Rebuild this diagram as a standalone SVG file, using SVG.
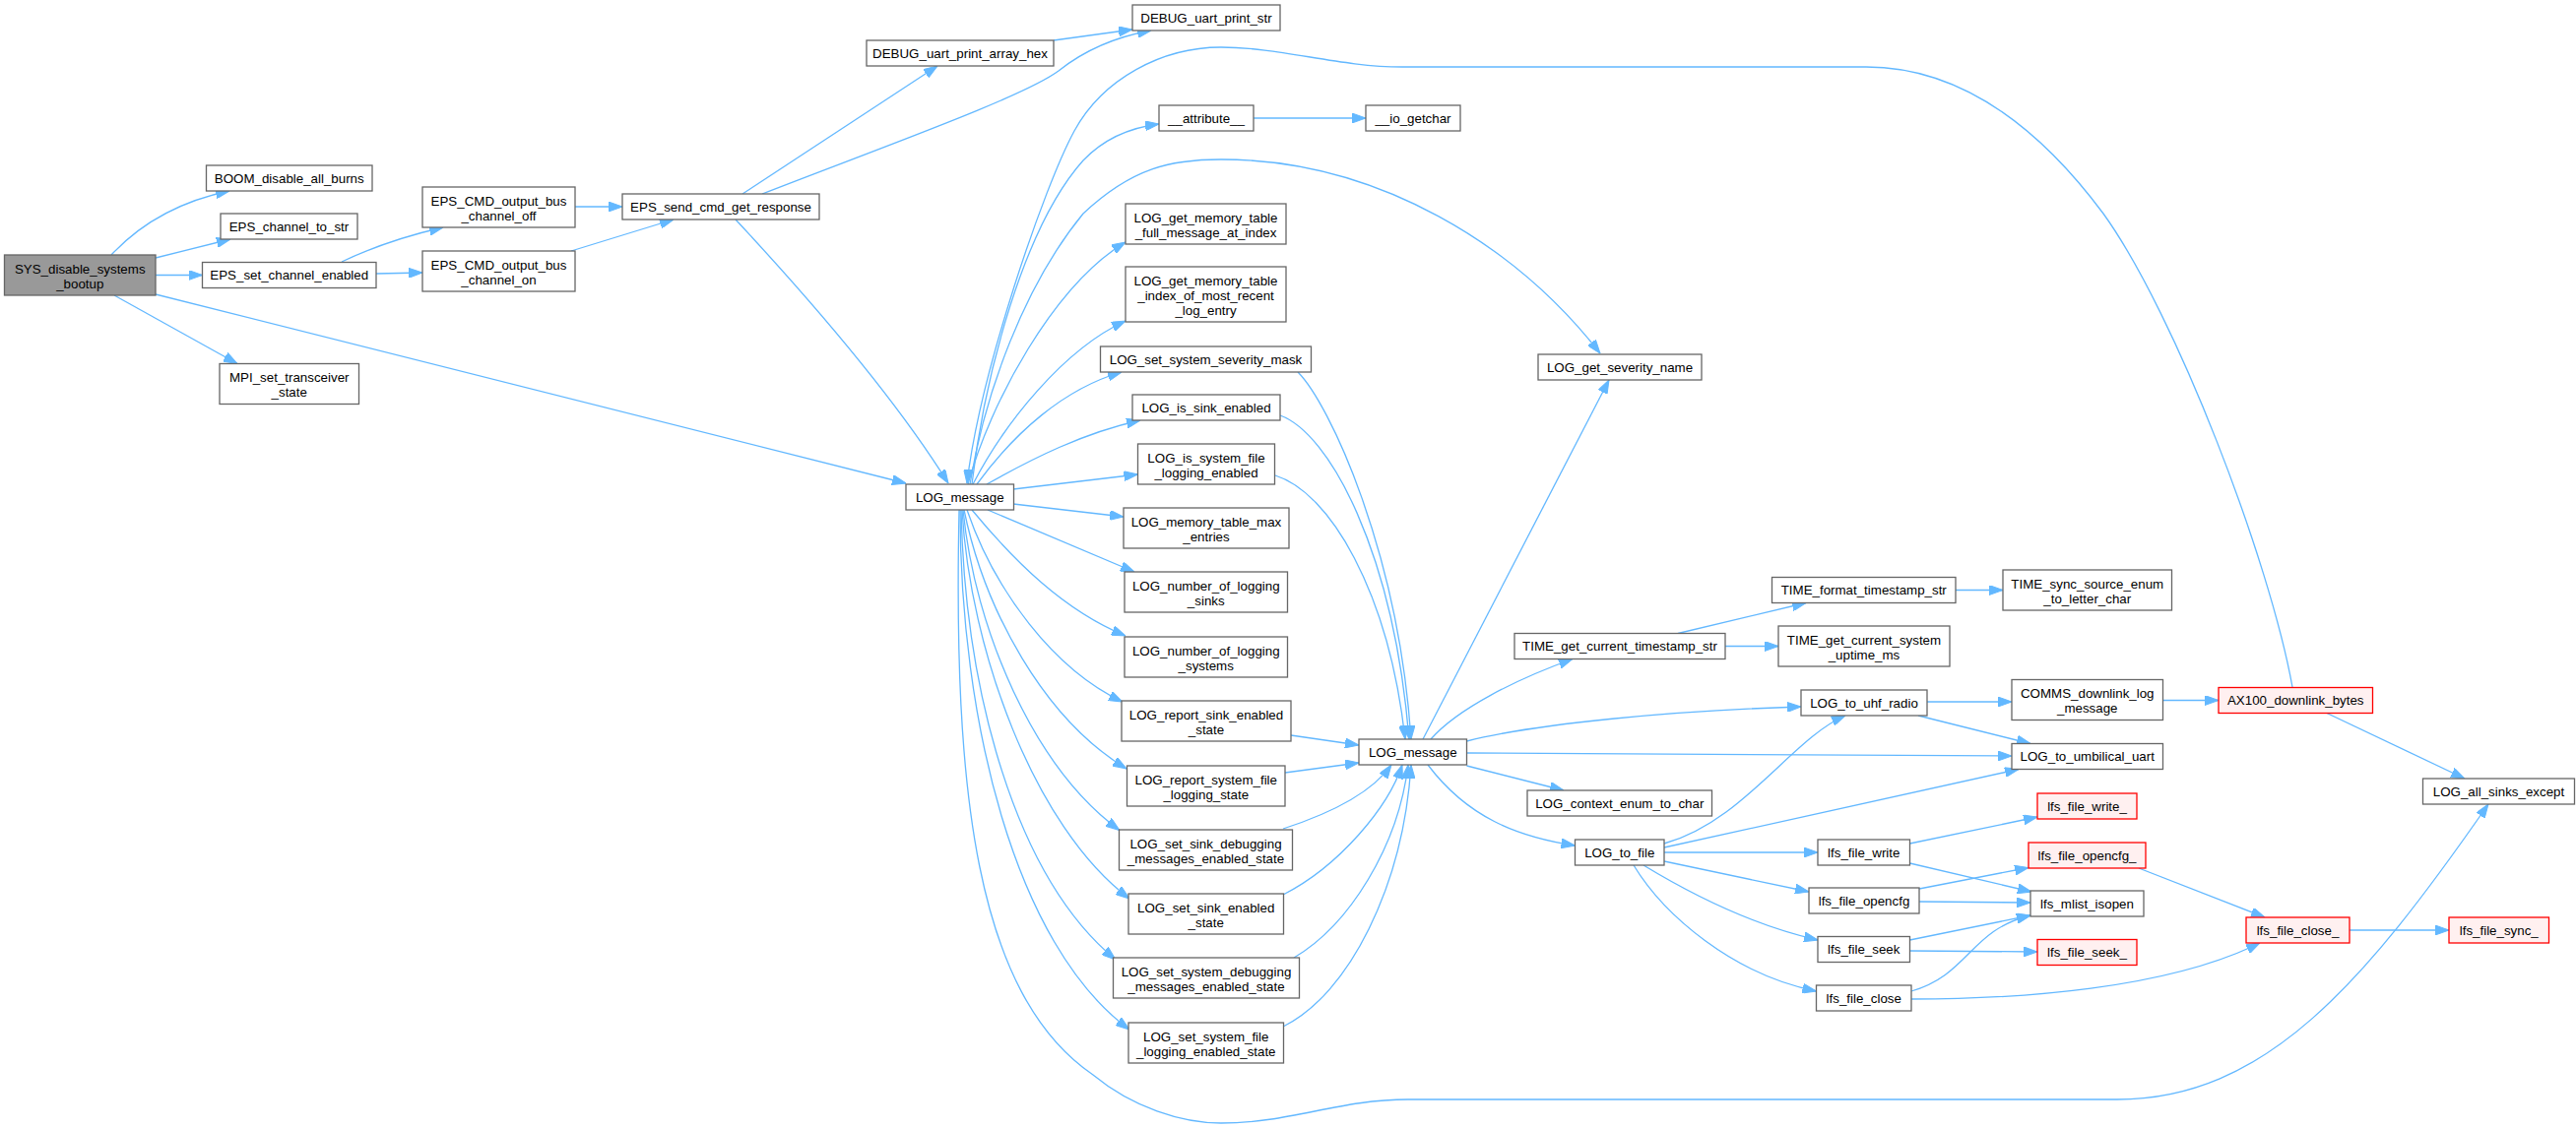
<svg xmlns="http://www.w3.org/2000/svg" width="2616" height="1146" viewBox="0 0 2616 1146">
<style>
.n rect{fill:#ffffff;stroke:#666666;stroke-width:1.3}
.root rect{fill:#999999}
.tr rect{fill:#fff0f0;stroke:#ff0000}
text{font-family:"Liberation Sans",Arial,Helvetica,sans-serif;font-size:13.33px;text-anchor:middle;fill:#000000}
#edges path{fill:none;stroke:#63b8ff;stroke-width:1.3;marker-end:url(#ah)}
#edges path.na{marker-end:none}
</style>
<defs>
<marker id="ah" viewBox="0 0 14 10" refX="14" refY="5" markerWidth="14" markerHeight="10" markerUnits="userSpaceOnUse" orient="auto">
<path d="M0,0 L14,5 L0,10 z" fill="#63b8ff" stroke="#63b8ff" stroke-width="1"/>
</marker>
</defs>
<rect x="0" y="0" width="2616" height="1146" fill="#ffffff"/>
<g id="edges">
<path d="M113,259 C140,230 180,205 233,194"/>
<path d="M158,262 L234,243"/>
<path d="M158,279.5 L205.5,279.5"/>
<path d="M116,300 L241,369.5"/>
<path d="M158,299 L920,491"/>
<path d="M347,266 C372,254 402,242 450,231"/>
<path d="M382,278 L429,277"/>
<path d="M584,210 L632,210"/>
<path d="M580,255 L684,223"/>
<path d="M754,197 L952,67"/>
<path d="M774,197 C900,148 1040,98 1075,72 C1100,52 1130,38 1169,31"/>
<path d="M1070,41 L1150,30"/>
<path d="M747,223 C800,280 900,390 963,491"/>
<path d="M1273,120 L1387,120"/>
<path d="M2328,698 C2305,570 2210,320 2136,217 C2060,115 1980,68 1895,68 L1424,68 C1360,68 1300,48 1240,48 C1180,48 1120,80 1091,133 C1060,190 995,380 982,491"/>
<path d="M987,492 C1000,380 1040,230 1100,163 C1120,142 1145,130 1177,126"/>
<path d="M985,492 C1000,400 1040,290 1100,217 C1150,170 1190,162 1240,162 C1400,162 1540,250 1625,359"/>
<path d="M983,492 C1005,410 1070,290 1143,246"/>
<path d="M988,492 C1020,430 1080,355 1143,326"/>
<path d="M992,492 C1030,440 1080,395 1139,378"/>
<path d="M1002,492 C1050,465 1100,440 1158,427"/>
<path d="M1029,497 L1155.5,482"/>
<path d="M1029,512 L1141,525"/>
<path d="M1003,518 L1152,581"/>
<path d="M987,518 C1030,570 1080,620 1143,646"/>
<path d="M982,518 C1010,600 1070,680 1140,713"/>
<path d="M979,518 C1000,620 1060,730 1144,781"/>
<path d="M978,518 C990,640 1050,780 1137,843.5"/>
<path d="M977,518 C985,660 1050,840 1147,913"/>
<path d="M976,518 C980,700 1030,890 1133,975"/>
<path d="M975,518 C975,730 1030,960 1147,1046"/>
<path d="M974,518 C968,800 990,1010 1110,1092 C1150,1125 1200,1141 1240,1141 C1310,1141 1360,1117 1430,1117 L2150,1117 C2300,1117 2400,1000 2527,817"/>
<path d="M1318,378 C1350,410 1420,560 1433,751"/>
<path d="M1300,422 C1350,440 1415,560 1431,751"/>
<path d="M1295,483 C1350,500 1410,600 1427,751"/>
<path d="M1311,747 L1380,757"/>
<path d="M1305,785 L1380,775"/>
<path d="M1303,842 C1340,830 1390,810 1413,777"/>
<path d="M1303,909 C1360,880 1410,820 1424,777"/>
<path d="M1314,973 C1370,940 1420,860 1430,777"/>
<path d="M1303,1043 C1370,1010 1425,900 1433,777"/>
<path d="M1445,751 L1634,386"/>
<path d="M1453,751 C1480,720 1540,690 1597,669.5"/>
<path d="M1489.5,753 C1560,735 1700,722 1829,718"/>
<path d="M1489.5,765 C1700,765 1900,768 2043,768"/>
<path d="M1489.5,778 L1588,803"/>
<path d="M1450,777 C1490,830 1540,850 1599.5,859"/>
<path d="M1704,643.5 L1834,612.5"/>
<path d="M1752,656.5 L1806,656.5"/>
<path d="M1986,599.5 L2034,599.5"/>
<path d="M1957,713 L2043,713"/>
<path d="M1948,727 L2062,755.5"/>
<path d="M2196.5,711.5 L2253,711.5"/>
<path d="M2363,724.5 L2503,791"/>
<path d="M1690,857 C1770,835 1820,750 1874,727"/>
<path d="M1690,861 L2050,781.5"/>
<path d="M1690,866 L1846,866"/>
<path d="M1690,875 L1837,906"/>
<path d="M1669,879 C1720,910 1780,940 1846,955"/>
<path d="M1659,879 C1690,930 1760,990 1844.5,1007"/>
<path d="M1939.5,857 L2069,830"/>
<path d="M1939.5,877 L2063,906"/>
<path d="M1949,903 L2060,881.5"/>
<path d="M1949,916 L2062,917"/>
<path d="M1939.5,955 L2062,930"/>
<path d="M1939.5,966 L2069,967"/>
<path d="M1941,1007 C2000,990 2000,945 2062,930"/>
<path d="M1941,1015 C2050,1015 2200,1005 2295,958"/>
<path d="M2172,882 L2300,932"/>
<path d="M2386,945 L2487,945"/>
</g>
<g id="n_SYS_disable_systems_bootup" class="n root"><rect x="4.5" y="259" width="153.5" height="41"/><text x="81.25" y="277.5">SYS_disable_systems</text><text x="81.25" y="292.5">_bootup</text></g>
<g id="n_BOOM_disable_all_burns" class="n"><rect x="209.5" y="168" width="168.5" height="26"/><text x="293.75" y="185.5">BOOM_disable_all_burns</text></g>
<g id="n_EPS_channel_to_str" class="n"><rect x="224" y="217" width="139" height="26"/><text x="293.5" y="234.5">EPS_channel_to_str</text></g>
<g id="n_EPS_set_channel_enabled" class="n"><rect x="205.5" y="266.5" width="176.5" height="26"/><text x="293.75" y="284">EPS_set_channel_enabled</text></g>
<g id="n_MPI_set_transceiver_state" class="n"><rect x="223" y="369.5" width="141.5" height="41"/><text x="293.75" y="388">MPI_set_transceiver</text><text x="293.75" y="403">_state</text></g>
<g id="n_EPS_CMD_output_bus_channel_off" class="n"><rect x="429" y="190" width="155" height="41"/><text x="506.5" y="208.5">EPS_CMD_output_bus</text><text x="506.5" y="223.5">_channel_off</text></g>
<g id="n_EPS_CMD_output_bus_channel_on" class="n"><rect x="429" y="255" width="155" height="41"/><text x="506.5" y="273.5">EPS_CMD_output_bus</text><text x="506.5" y="288.5">_channel_on</text></g>
<g id="n_EPS_send_cmd_get_response" class="n"><rect x="632" y="197" width="200" height="26"/><text x="732" y="214.5">EPS_send_cmd_get_response</text></g>
<g id="n_DEBUG_uart_print_array_hex" class="n"><rect x="880" y="41" width="190" height="26"/><text x="975" y="58.5">DEBUG_uart_print_array_hex</text></g>
<g id="n_DEBUG_uart_print_str" class="n"><rect x="1150" y="5" width="150" height="26"/><text x="1225" y="22.5">DEBUG_uart_print_str</text></g>
<g id="n_LOG_message_1" class="n"><rect x="920" y="492" width="109.5" height="26"/><text x="974.75" y="509.5">LOG_message</text></g>
<g id="n___attribute__" class="n"><rect x="1177" y="107" width="96" height="26"/><text x="1225" y="124.5">__attribute__</text></g>
<g id="n___io_getchar" class="n"><rect x="1387" y="107" width="96" height="26"/><text x="1435" y="124.5">__io_getchar</text></g>
<g id="n_LOG_get_memory_table_full_message_at_index" class="n"><rect x="1143" y="207" width="163" height="41"/><text x="1224.5" y="225.5">LOG_get_memory_table</text><text x="1224.5" y="240.5">_full_message_at_index</text></g>
<g id="n_LOG_get_memory_table_index_of_most_recent_log_entry" class="n"><rect x="1143" y="271" width="163" height="56"/><text x="1224.5" y="289.5">LOG_get_memory_table</text><text x="1224.5" y="304.5">_index_of_most_recent</text><text x="1224.5" y="319.5">_log_entry</text></g>
<g id="n_LOG_set_system_severity_mask" class="n"><rect x="1117.5" y="352" width="214" height="26"/><text x="1224.5" y="369.5">LOG_set_system_severity_mask</text></g>
<g id="n_LOG_is_sink_enabled" class="n"><rect x="1150" y="401" width="150" height="26"/><text x="1225" y="418.5">LOG_is_sink_enabled</text></g>
<g id="n_LOG_is_system_file_logging_enabled" class="n"><rect x="1155.5" y="451" width="139" height="41"/><text x="1225" y="469.5">LOG_is_system_file</text><text x="1225" y="484.5">_logging_enabled</text></g>
<g id="n_LOG_memory_table_max_entries" class="n"><rect x="1141" y="516" width="168" height="41"/><text x="1225" y="534.5">LOG_memory_table_max</text><text x="1225" y="549.5">_entries</text></g>
<g id="n_LOG_number_of_logging_sinks" class="n"><rect x="1142" y="581" width="165.5" height="41"/><text x="1224.75" y="599.5">LOG_number_of_logging</text><text x="1224.75" y="614.5">_sinks</text></g>
<g id="n_LOG_number_of_logging_systems" class="n"><rect x="1142" y="647" width="165.5" height="41"/><text x="1224.75" y="665.5">LOG_number_of_logging</text><text x="1224.75" y="680.5">_systems</text></g>
<g id="n_LOG_report_sink_enabled_state" class="n"><rect x="1139" y="712" width="172" height="41"/><text x="1225" y="730.5">LOG_report_sink_enabled</text><text x="1225" y="745.5">_state</text></g>
<g id="n_LOG_report_system_file_logging_state" class="n"><rect x="1144.5" y="778" width="160.5" height="41"/><text x="1224.75" y="796.5">LOG_report_system_file</text><text x="1224.75" y="811.5">_logging_state</text></g>
<g id="n_LOG_set_sink_debugging_messages_enabled_state" class="n"><rect x="1136.5" y="843" width="176" height="41"/><text x="1224.5" y="861.5">LOG_set_sink_debugging</text><text x="1224.5" y="876.5">_messages_enabled_state</text></g>
<g id="n_LOG_set_sink_enabled_state" class="n"><rect x="1146" y="908" width="157.5" height="41"/><text x="1224.75" y="926.5">LOG_set_sink_enabled</text><text x="1224.75" y="941.5">_state</text></g>
<g id="n_LOG_set_system_debugging_messages_enabled_state" class="n"><rect x="1130.5" y="973" width="189" height="41"/><text x="1225" y="991.5">LOG_set_system_debugging</text><text x="1225" y="1006.5">_messages_enabled_state</text></g>
<g id="n_LOG_set_system_file_logging_enabled_state" class="n"><rect x="1146" y="1039" width="157.5" height="41"/><text x="1224.75" y="1057.5">LOG_set_system_file</text><text x="1224.75" y="1072.5">_logging_enabled_state</text></g>
<g id="n_LOG_get_severity_name" class="n"><rect x="1562" y="360" width="166" height="26"/><text x="1645" y="377.5">LOG_get_severity_name</text></g>
<g id="n_LOG_message_2" class="n"><rect x="1380" y="751" width="109.5" height="26"/><text x="1434.75" y="768.5">LOG_message</text></g>
<g id="n_TIME_get_current_timestamp_str" class="n"><rect x="1538" y="643.5" width="214" height="26"/><text x="1645" y="661">TIME_get_current_timestamp_str</text></g>
<g id="n_TIME_format_timestamp_str" class="n"><rect x="1799.5" y="586.5" width="186.5" height="26"/><text x="1892.75" y="604">TIME_format_timestamp_str</text></g>
<g id="n_TIME_sync_source_enum_to_letter_char" class="n"><rect x="2034" y="579" width="171.5" height="41"/><text x="2119.75" y="597.5">TIME_sync_source_enum</text><text x="2119.75" y="612.5">_to_letter_char</text></g>
<g id="n_TIME_get_current_system_uptime_ms" class="n"><rect x="1806" y="636" width="174" height="41"/><text x="1893" y="654.5">TIME_get_current_system</text><text x="1893" y="669.5">_uptime_ms</text></g>
<g id="n_LOG_to_uhf_radio" class="n"><rect x="1829" y="701" width="128" height="26"/><text x="1893" y="718.5">LOG_to_uhf_radio</text></g>
<g id="n_COMMS_downlink_log_message" class="n"><rect x="2043" y="690.5" width="153.5" height="41"/><text x="2119.75" y="709">COMMS_downlink_log</text><text x="2119.75" y="724">_message</text></g>
<g id="n_AX100_downlink_bytes" class="n tr"><rect x="2253" y="698.5" width="156.5" height="26"/><text x="2331.25" y="716">AX100_downlink_bytes</text></g>
<g id="n_LOG_to_umbilical_uart" class="n"><rect x="2043" y="755.5" width="153.5" height="26"/><text x="2119.75" y="773">LOG_to_umbilical_uart</text></g>
<g id="n_LOG_context_enum_to_char" class="n"><rect x="1551" y="803" width="187.5" height="26"/><text x="1644.75" y="820.5">LOG_context_enum_to_char</text></g>
<g id="n_LOG_to_file" class="n"><rect x="1599.5" y="853" width="90.5" height="26"/><text x="1644.75" y="870.5">LOG_to_file</text></g>
<g id="n_LOG_all_sinks_except" class="n"><rect x="2460.5" y="791" width="154" height="26"/><text x="2537.5" y="808.5">LOG_all_sinks_except</text></g>
<g id="n_lfs_file_write_" class="n tr"><rect x="2069" y="806" width="101" height="26"/><text x="2119.5" y="823.5">lfs_file_write_</text></g>
<g id="n_lfs_file_write" class="n"><rect x="1846" y="853" width="93.5" height="26"/><text x="1892.75" y="870.5">lfs_file_write</text></g>
<g id="n_lfs_file_opencfg_" class="n tr"><rect x="2060" y="856" width="119" height="26"/><text x="2119.5" y="873.5">lfs_file_opencfg_</text></g>
<g id="n_lfs_file_opencfg" class="n"><rect x="1837" y="902" width="112" height="26"/><text x="1893" y="919.5">lfs_file_opencfg</text></g>
<g id="n_lfs_mlist_isopen" class="n"><rect x="2062" y="905" width="115" height="26"/><text x="2119.5" y="922.5">lfs_mlist_isopen</text></g>
<g id="n_lfs_file_close_" class="n tr"><rect x="2281" y="932" width="105" height="26"/><text x="2333.5" y="949.5">lfs_file_close_</text></g>
<g id="n_lfs_file_sync_" class="n tr"><rect x="2487" y="932" width="101.5" height="26"/><text x="2537.75" y="949.5">lfs_file_sync_</text></g>
<g id="n_lfs_file_seek" class="n"><rect x="1846" y="951.5" width="93.5" height="26"/><text x="1892.75" y="969">lfs_file_seek</text></g>
<g id="n_lfs_file_seek_" class="n tr"><rect x="2069" y="954.5" width="101" height="26"/><text x="2119.5" y="972">lfs_file_seek_</text></g>
<g id="n_lfs_file_close" class="n"><rect x="1844.5" y="1001" width="96.5" height="26"/><text x="1892.75" y="1018.5">lfs_file_close</text></g>
</svg>
